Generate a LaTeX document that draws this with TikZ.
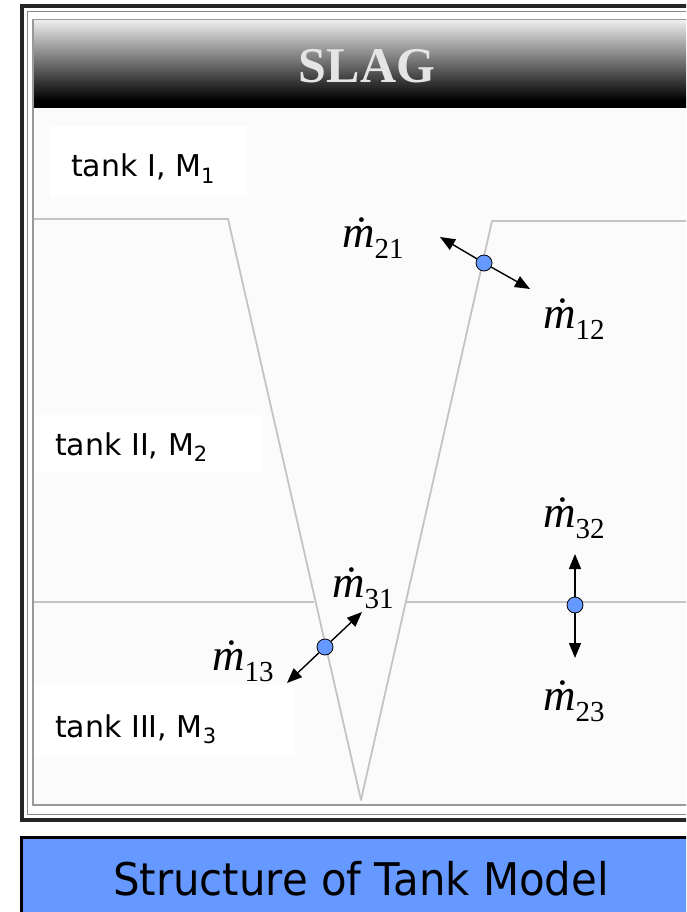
\documentclass[tikz,border=0pt]{standalone}
\usepackage{fontspec}
\setmainfont{DejaVu Sans}
\newfontfamily\capfont[FakeStretch=0.93]{DejaVu Sans}
\newfontfamily\timesf{Liberation Serif}
\usetikzlibrary{arrows.meta}
\definecolor{capblue}{HTML}{6699FF}
\definecolor{dotblue}{HTML}{6699FF}
\definecolor{bgc}{HTML}{FBFBFB}
\definecolor{tline}{HTML}{C4C4C4}
\newcommand\mflow[1]{{\timesf\fontsize{45}{45}\selectfont\itshape ṁ\upshape\raisebox{-0.25em}{\fontsize{29}{29}\selectfont #1}}}
\newcommand\tlab[2]{#1, M\raisebox{-0.22em}{\fontsize{21}{21}\selectfont #2}}
\tikzset{
  tanklab/.style={anchor=base west, inner sep=0pt, font=\fontsize{30}{36}\selectfont},
  flowlab/.style={anchor=base west, inner sep=0pt},
  tankline/.style={draw=tline, line width=1.8pt},
  labbox/.style={fill=white, draw=none},
  flowdot/.style={circle, fill=dotblue, draw=black, line width=0.8pt, minimum size=16pt, inner sep=0pt},
  flow/.style={line width=1.4pt, -{Triangle[length=15pt,width=12pt]}}
}
\begin{document}
\begin{tikzpicture}[x=1pt,y=-1pt]
\useasboundingbox (0,0) rectangle (686,912);
\clip (0,0) rectangle (686,912);
\fill[white] (0,0) rectangle (686,912);
% frame
\draw[black!85, line width=4pt] (22,6) rectangle (730,820);
\draw[black!45, line width=1pt] (27,12) rectangle (725,814);
\fill[bgc] (33,20) rectangle (720,805);
\draw[black!40, line width=2pt] (33,20) rectangle (720,805);
% header
\shade[top color=black!8, middle color=black!45, bottom color=black] (34,21) rectangle (719,100);
\fill[black] (34,100) rectangle (719,108);
\node[font=\timesf\bfseries\fontsize{50}{60}\selectfont, text=white!90!black, anchor=base, inner sep=0pt] (hdr) at (367,83) {SLAG};
% label boxes
\fill[labbox] (50,126) rectangle (247,197);
\fill[labbox] (34,415) rectangle (263,472);
\fill[labbox] (34,685) rectangle (295,757);
% tank boundaries
\coordinate (a1) at (34,219);
\coordinate (a2) at (228,219);
\coordinate (v) at (361,800);
\coordinate (a3) at (492,221);
\coordinate (a4) at (720,221);
\coordinate (b1) at (34,602);
\coordinate (b2) at (314,602);
\coordinate (b3) at (406,602);
\coordinate (b4) at (720,602);
\draw[tankline, line join=round] (a1) -- (a2) -- (v) -- (a3) -- (a4);
\draw[tankline] (b1) -- (b2);
\draw[tankline] (b3) -- (b4);
% tank labels
\node[tanklab] (l1) at (71,177) {\tlab{tank I}{1}};
\node[tanklab] (l2) at (55,455) {\tlab{tank II}{2}};
\node[tanklab] (l3) at (55,737) {\tlab{tank III}{3}};
% flow dots and arrows
\node[flowdot] (d12) at (484,263) {};
\node[flowdot] (d13) at (325,647) {};
\node[flowdot] (d23) at (575,605) {};
\coordinate (t21) at (440,237);
\coordinate (t12) at (530,289);
\coordinate (t31) at (362,612);
\coordinate (t13) at (287,683);
\coordinate (t32) at (575,554);
\coordinate (t23) at (575,658);
\draw[flow] (d12) -- (t21);
\draw[flow] (d12) -- (t12);
\draw[flow] (d13) -- (t31);
\draw[flow] (d13) -- (t13);
\draw[flow] (d23) -- (t32);
\draw[flow] (d23) -- (t23);
% flow labels
\node[flowlab] (m21) at (342,247) {\mflow{21}};
\node[flowlab] (m12) at (543,328) {\mflow{12}};
\node[flowlab] (m31) at (332,597) {\mflow{31}};
\node[flowlab] (m13) at (212,670) {\mflow{13}};
\node[flowlab] (m32) at (543,527) {\mflow{32}};
\node[flowlab] (m23) at (543,710) {\mflow{23}};
% caption
\draw[fill=capblue, draw=black, line width=3pt] (21,837) rectangle (730,950);
\node[font=\capfont\fontsize{45}{54}\selectfont, anchor=base, inner sep=0pt] (cap) at (361,895) {Structure of Tank Model};
\end{tikzpicture}
\end{document}
